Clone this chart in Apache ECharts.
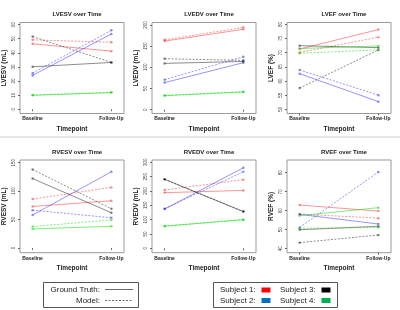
<!DOCTYPE html>
<html><head><meta charset="utf-8">
<script src="https://cdn.jsdelivr.net/npm/echarts@6/dist/echarts.min.js"></script>
<style>html,body{margin:0;padding:0;background:#fff}#c{width:400px;height:310px}</style>
</head><body><div id="c"></div>
<script>
// ---- data ----
const timepoints = ['Baseline', 'Follow-Up'];
const subjects = ['Subject 1', 'Subject 2', 'Subject 3', 'Subject 4'];
const metrics = ['LVESV', 'LVEDV', 'LVEF', 'RVESV', 'RVEDV', 'RVEF'];
const yNames = ['LVESV (mL)', 'LVEDV (mL)', 'LVEF (%)', 'RVESV (mL)', 'RVEDV (mL)', 'RVEF (%)'];
const lvesvTicks = [0, 10, 20, 30, 40, 50, 60];
const lvedvTicks = [0, 50, 100, 150, 200];
const lvefTicks = [50, 55, 60, 65, 70, 75, 80];
const rvesvTicks = [0, 50, 100, 150];
const rvedvTicks = [0, 50, 100, 150, 200, 250, 300];
const rvefTicks = [40, 50, 60, 70, 80];
// [baseline, follow-up] per subject 1..4
const lvesvTruth = [[46.4, 41.2], [24.0, 53.4], [30.1, 33.2], [9.9, 11.8]];
const lvesvModel = [[49.2, 47.5], [25.6, 56.0], [51.5, 33.2], [10.1, 12.0]];
const lvedvTruth = [[162, 190], [64, 111], [109.4, 114], [33, 42]];
const lvedvModel = [[165, 194.5], [71, 125], [120.5, 116.5], [34, 42.5]];
const lvefTruth = [[71.3, 78.2], [62.6, 52.7], [72.5, 71.8], [71.5, 72.4]];
const lvefModel = [[70.1, 75.5], [63.9, 55.0], [57.5, 71.0], [69.8, 71.0]];
const rvesvTruth = [[73, 83], [58, 134], [122, 62], [33.5, 38.2]];
const rvesvModel = [[86, 106.5], [66.5, 53], [138, 69], [37.6, 49.4]];
const rvedvTruth = [[194, 202], [137, 281], [240.7, 128], [77, 100]];
const rvedvModel = [[203.5, 239.5], [138, 267], [240.7, 128], [78, 100]];
const rvefTruth = [[63, 59.8], [58.1, 53.0], [50.0, 51.8], [57.4, 61.6]];
const rvefModel = [[58.2, 56.1], [51.2, 80.4], [43.2, 47.2], [50.7, 51.2]];

// ---- layout / style ----
const truthSets = [lvesvTruth, lvedvTruth, lvefTruth, rvesvTruth, rvedvTruth, rvefTruth];
const modelSets = [lvesvModel, lvedvModel, lvefModel, rvesvModel, rvedvModel, rvefModel];
const tickSets = [lvesvTicks, lvedvTicks, lvefTicks, rvesvTicks, rvedvTicks, rvefTicks];
const yRanges = [[-3, 61.5], [-9, 206], [48.5, 80.7], [-8.3, 154.7], [-15.3, 308], [37.9, 86.7]];
const lineColors = ['rgba(255,0,0,0.42)', 'rgba(0,0,255,0.42)', 'rgba(0,0,0,0.45)', 'rgba(0,220,0,0.5)'];
const legendColors = ['#ff0000', '#0070c0', '#000000', '#00b050'];
const gridLefts = [20, 152, 287, 20, 152, 287];
const gridTops = [22.5, 22.5, 22.5, 160, 160, 160];
const gridH = [91, 91, 91, 92.7, 92.7, 92.7];
const gridW = 104;
const FONT = 'Liberation Sans, Arial, sans-serif';

const grids = [], xAxes = [], yAxes = [], series = [], titles = [];
for (let i = 0; i < 6; i++) {
  grids.push({left: gridLefts[i], top: gridTops[i], width: gridW, height: gridH[i],
    show: true, borderColor: '#9a9a9a', borderWidth: 1, backgroundColor: 'transparent'});
  xAxes.push({type: 'value', gridIndex: i, min: 0.84, max: 2.16,
    axisLine: {show: false}, splitLine: {show: false},
    axisTick: {show: true, customValues: [1, 2], length: 2, lineStyle: {color: '#666'}},
    axisLabel: {customValues: [1, 2], formatter: v => timepoints[Math.round(v) - 1],
      fontSize: 5, fontWeight: 'bold', color: '#222', margin: 3, fontFamily: FONT},
    name: 'Timepoint', nameLocation: 'middle', nameGap: 12.5,
    nameTextStyle: {fontSize: 6.5, fontWeight: 'bold', color: '#222', fontFamily: FONT}});
  yAxes.push({type: 'value', gridIndex: i, min: yRanges[i][0], max: yRanges[i][1],
    axisLine: {show: false}, splitLine: {show: false},
    axisTick: {show: true, customValues: tickSets[i], length: 2, lineStyle: {color: '#666'}},
    axisLabel: {customValues: tickSets[i], rotate: 90, fontSize: 4.5, color: '#444', margin: 4, fontFamily: FONT},
    name: yNames[i], nameLocation: 'middle', nameGap: 12, nameRotate: 90,
    nameTextStyle: {fontSize: 6.5, fontWeight: 'bold', color: '#222', fontFamily: FONT}});
  titles.push({text: metrics[i] + ' over Time', left: gridLefts[i] + gridW / 2, textAlign: 'center',
    top: gridTops[i] - 16, textStyle: {fontSize: 6, fontWeight: 'bold', color: '#222', fontFamily: FONT}});
  for (let s = 0; s < 4; s++) {
    [[truthSets[i], 'solid'], [modelSets[i], [2, 1.5]]].forEach(([set, dash]) => {
      series.push({type: 'line', xAxisIndex: i, yAxisIndex: i, silent: true, animation: false,
        data: [[1, set[s][0]], [2, set[s][1]]],
        symbol: 'circle', symbolSize: 2.5, showSymbol: true,
        lineStyle: {color: lineColors[s], width: 1, type: dash},
        itemStyle: {color: lineColors[s]}});
    });
  }
}

// legend graphics
const graphic = [
  {type: 'line', shape: {x1: 0, y1: 137, x2: 400, y2: 137}, style: {stroke: '#cccccc', lineWidth: 1}},
  {type: 'rect', shape: {x: 43.5, y: 282.5, width: 95, height: 25}, style: {fill: '#fff', stroke: '#555', lineWidth: 1}},
  {type: 'text', x: 100, y: 290, style: {text: 'Ground Truth:', font: '8px ' + FONT, fill: '#222', textAlign: 'right', textVerticalAlign: 'middle'}},
  {type: 'text', x: 100, y: 300.5, style: {text: 'Model:', font: '8px ' + FONT, fill: '#222', textAlign: 'right', textVerticalAlign: 'middle'}},
  {type: 'line', shape: {x1: 105, y1: 289.5, x2: 133, y2: 289.5}, style: {stroke: '#444', lineWidth: 0.8}},
  {type: 'line', shape: {x1: 105, y1: 300.5, x2: 133, y2: 300.5}, style: {stroke: '#444', lineWidth: 0.8, lineDash: [2, 1.5]}},
  {type: 'rect', shape: {x: 213.5, y: 282.5, width: 124, height: 25}, style: {fill: '#fff', stroke: '#555', lineWidth: 1}}
];
const legPos = [[220, 290], [220, 300.5], [280, 290], [280, 300.5]];
subjects.forEach((name, s) => {
  const [x, y] = legPos[s];
  graphic.push({type: 'text', x: x, y: y, style: {text: name + ':', font: '8px ' + FONT, fill: '#222', textVerticalAlign: 'middle'}});
  graphic.push({type: 'rect', shape: {x: x + 41.5, y: y - 2.5, width: 9, height: 5}, style: {fill: legendColors[s]}});
});

const chart = echarts.init(document.getElementById('c'), null, {renderer: 'canvas'});
chart.setOption({animation: false, title: titles, grid: grids, xAxis: xAxes, yAxis: yAxes, series: series, graphic: graphic});
</script></body></html>
